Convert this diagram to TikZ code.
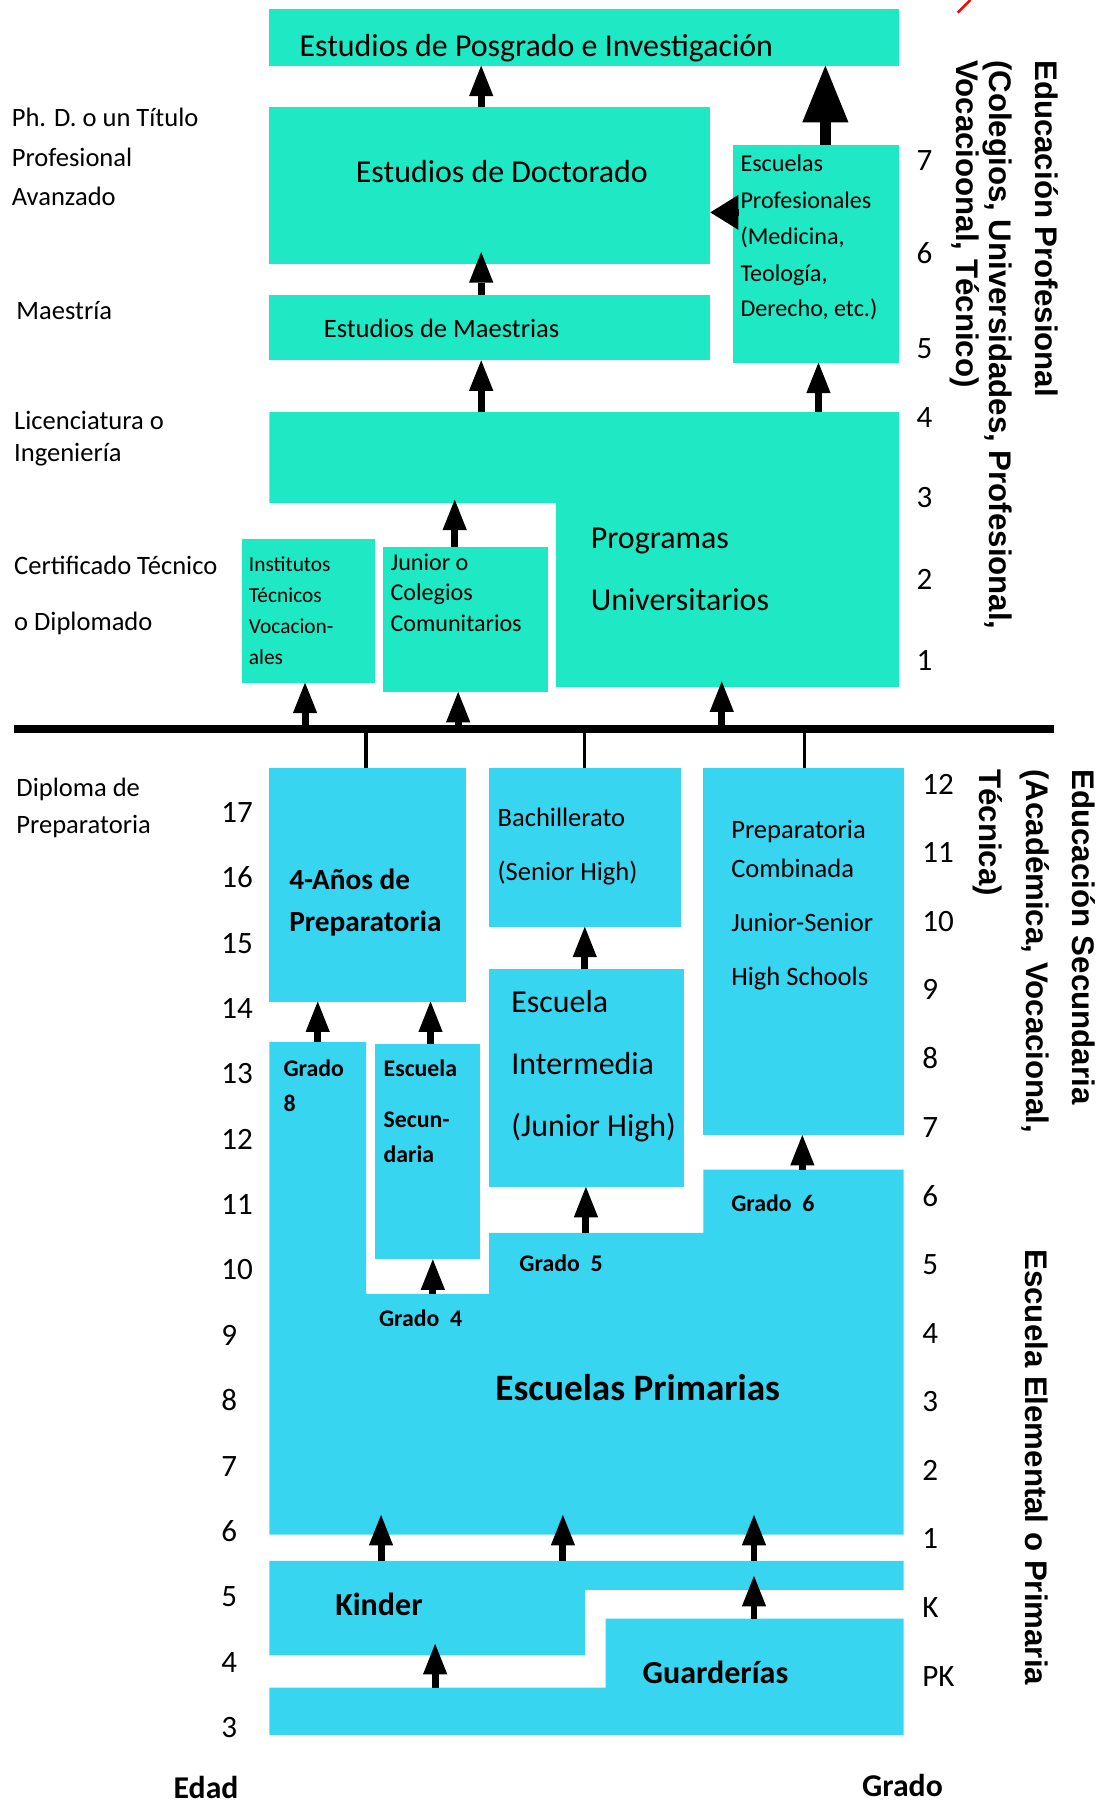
\documentclass[tikz,border=0pt]{standalone}
\usepackage{fontspec}
\setmainfont{Carlito}
\newfontfamily\vertfont{Liberation Sans}
\usetikzlibrary{arrows.meta,fit}
\definecolor{profteal}{RGB}{30,233,196}
\definecolor{seccyan}{RGB}{56,213,240}
\newcommand{\setfs}[1]{\fontsize{#1pt}{#1pt}\selectfont}
\tikzset{
  profbox/.style={fill=profteal, inner sep=0pt, outer sep=0pt},
  secbox/.style={fill=seccyan, inner sep=0pt, outer sep=0pt},
  lbl/.style={inner sep=0pt, anchor=mid west, yshift=-3.5pt},
  txtbig/.style={font=\setfs{19.7}},
  txtmid/.style={font=\setfs{16.4}},
  txtsm/.style={font=\setfs{14.9}},
  txtxs/.style={font=\setfs{13.2}},
  boldsm/.style={font=\bfseries\setfs{14.7}},
  boldmd/.style={font=\bfseries\setfs{18.1}},
  boldlg/.style={font=\bfseries\setfs{19.8}},
  numtxt/.style={font=\setfs{19.2}},
  vlabel/.style={inner sep=0pt, anchor=mid west, rotate=-90, font=\vertfont\bfseries\setfs{19.3}},
  uparrow/.style={line width=4.3pt, -{Triangle[width=15pt,length=18.8pt,line width=0pt]}},
  bigarrow/.style={line width=7.2pt, -{Triangle[width=28.5pt,length=35pt,line width=0pt]}},
}
\begin{document}
\begin{tikzpicture}[x=0.025cm, y=-0.025cm]
    \useasboundingbox (0,0) rectangle (961,1568);

    % educacion profesional
    \node[profbox, fit={(234,8) (781,57)}] (pos) {};
    \node[profbox, fit={(234,93) (617,229)}] (doc) {};
    \node[profbox, fit={(637,126) (781,315)}] (esc) {};
    \node[profbox, fit={(234,256) (617,313)}] (mae) {};
    \fill[profteal] (234,358) -- (781,358) -- (781,597) -- (483,597) -- (483,437) -- (234,437) -- cycle;
    \node[profbox, fit={(210,468) (326,593)}] (ins) {};
    \node[profbox, fit={(333,475) (476,601)}] (jun) {};

    \node[lbl, txtbig] (tpos) at (260,41) {Estudios de Posgrado e Investigación};
    \node[txtbig, inner sep=0pt] (tdoc) at (436,149) {Estudios de Doctorado};
    \foreach \yy/\tt in {141/Escuelas, 173/Profesionales, 204/{(Medicina,}, 236/{Teología,}, 267/{Derecho, etc.)}}
        \node[lbl, txtsm] (tesc\yy) at (643,\yy) {\tt};
    \node[lbl, txtmid] (tmae) at (281,285) {Estudios de Maestrias};
    \node[lbl, txtbig] (tuni1) at (513,468) {Programas};
    \node[lbl, txtbig] (tuni2) at (513,522) {Universitarios};
    \foreach \yy/\tt in {488/Institutos, 515/Técnicos, 542/Vocacion-, 569/ales}
        \node[lbl, txtxs] (tins\yy) at (216,\yy) {\tt};
    \foreach \yy/\tt in {487/Junior o, 513/Colegios, 540/Comunitarios}
        \node[lbl, txtsm] (tjun\yy) at (339,\yy) {\tt};

    \coordinate (docup) at (418,93);
    \draw[uparrow] (docup) -- (docup |- pos.south);
    \coordinate (escup) at (717,126);
    \draw[bigarrow] (escup) -- (escup |- pos.south);
    \coordinate (escleft) at (641,184.5);
    \draw[line width=4pt, -{Triangle[width=21.6pt,length=17.4pt,line width=0pt]}] (escleft) -- (escleft -| doc.east);
    \coordinate (maeup) at (418,256);
    \coordinate (maetip) at (418,219);
    \draw[uparrow] (maeup) -- (maetip);
    \coordinate (uniup1) at (418,358);
    \draw[uparrow] (uniup1) -- (uniup1 |- mae.south);
    \coordinate (uniup2) at (711,358);
    \draw[uparrow] (uniup2) -- (uniup2 |- esc.south);
    \coordinate (junup) at (395,475);
    \coordinate (unistep) at (395,434);
    \draw[uparrow] (junup) -- (unistep);

    % linea divisoria
    \coordinate (barL) at (12,633);
    \coordinate (barR) at (916,633);
    \draw[line width=5pt] (barL) -- (barR);
    \coordinate (bar1) at (265,633);
    \draw[uparrow] (bar1) -- (bar1 |- ins.south);
    \coordinate (bar2) at (398,633);
    \draw[uparrow] (bar2) -- (bar2 |- jun.south);
    \coordinate (bar3) at (627,633);
    \coordinate (unibot) at (627,592);
    \draw[uparrow] (bar3) -- (unibot);

    % educacion secundaria
    \node[secbox, fit={(234,667) (405,870)}] (ano) {};
    \node[secbox, fit={(425,667) (592,805)}] (bac) {};
    \node[secbox, fit={(611,667) (785,986)}] (pco) {};
    \node[secbox, fit={(425,842) (594,1031)}] (int) {};
    \node[secbox, fit={(326,907) (417,1094)}] (sec) {};
    \fill[seccyan] (234,905) -- (318,905) -- (318,1124) -- (425,1124) -- (425,1071) -- (611,1071) -- (611,1016)
        -- (785,1016) -- (785,1333) -- (234,1333) -- cycle;
    \fill[seccyan] (234,1356) -- (785,1356) -- (785,1381) -- (508,1381) -- (508,1438) -- (234,1438) -- cycle;
    \fill[seccyan] (526,1406) -- (785,1406) -- (785,1507) -- (234,1507) -- (234,1466) -- (526,1466) -- cycle;

    \coordinate (drop1) at (318,633);
    \draw[line width=2pt] (drop1) -- (drop1 |- ano.north);
    \coordinate (drop2) at (508,633);
    \draw[line width=2pt] (drop2) -- (drop2 |- bac.north);
    \coordinate (drop3) at (699,633);
    \draw[line width=2pt] (drop3) -- (drop3 |- pco.north);

    \node[lbl, boldmd] (tano1) at (251,764) {4-Años de};
    \node[lbl, boldmd] (tano2) at (251,801) {Preparatoria};
    \node[lbl, txtmid] (tbac1) at (432,710) {Bachillerato};
    \node[lbl, txtmid] (tbac2) at (432,757) {(Senior High)};
    \foreach \yy/\tt in {720/Preparatoria, 754/Combinada, 801/Junior-Senior, 848/High Schools}
        \node[lbl, txtmid] (tpco\yy) at (635,\yy) {\tt};
    \foreach \yy/\tt in {871/Escuela, 925/Intermedia, 979/(Junior High)}
        \node[lbl, txtbig] (tint\yy) at (444,\yy) {\tt};
    \node[lbl, boldsm] (tg8a) at (246,927) {Grado};
    \node[lbl, boldsm] (tg8b) at (246,957) {8};
    \foreach \yy/\tt in {927/Escuela, 971/Secun-, 1002/daria}
        \node[lbl, boldsm] (tsec\yy) at (333,\yy) {\tt};
    \node[lbl, boldsm] (tg4) at (329,1144) {Grado\ \ 4};
    \node[lbl, boldsm] (tg5) at (451,1096) {Grado\ \ 5};
    \node[lbl, boldsm] (tg6) at (635,1044) {Grado\ \ 6};
    \node[inner sep=0pt, font=\bfseries\setfs{23}] (tprim) at (554,1205) {Escuelas Primarias};
    \node[lbl, boldlg] (tkin) at (291,1395) {Kinder};
    \node[lbl, boldlg] (tgua) at (558,1454) {Guarderías};

    \coordinate (g8up) at (276,905);
    \draw[uparrow] (g8up) -- (g8up |- ano.south);
    \coordinate (secup) at (374,907);
    \draw[uparrow] (secup) -- (secup |- ano.south);
    \coordinate (intup) at (508,842);
    \draw[uparrow] (intup) -- (intup |- bac.south);
    \coordinate (g4up) at (376,1124);
    \draw[uparrow] (g4up) -- (g4up |- sec.south);
    \coordinate (g5up) at (509,1071);
    \draw[uparrow] (g5up) -- (g5up |- int.south);
    \coordinate (g6up) at (697,1016);
    \draw[uparrow] (g6up) -- (g6up |- pco.south);
    \foreach \xx in {331,489,655} {
        \coordinate (kup\xx) at (\xx,1356);
        \coordinate (ktip\xx) at (\xx,1316);
        \draw[uparrow] (kup\xx) -- (ktip\xx);
    }
    \coordinate (guaup) at (655,1406);
    \coordinate (guatip) at (655,1369);
    \draw[uparrow] (guaup) -- (guatip);
    \coordinate (pkup) at (378,1466);
    \coordinate (pktip) at (378,1428);
    \draw[uparrow] (pkup) -- (pktip);

    % etiquetas izquierda
    \node[lbl, txtmid] (lphd1) at (10,102) {Ph. D. o un Título};
    \node[lbl, txtmid] (lphd2) at (10,136) {Profesional};
    \node[lbl, txtmid] (lphd3) at (10,170) {Avanzado};
    \node[lbl, txtmid] (lmae) at (14,269) {Maestría};
    \node[lbl, txtmid] (llic1) at (12,365) {Licenciatura o};
    \node[lbl, txtmid] (llic2) at (12,393) {Ingeniería};
    \node[lbl, txtmid] (lcer1) at (12,491) {Certificado Técnico};
    \node[lbl, txtmid] (lcer2) at (12,539) {o Diplomado};
    \node[lbl, txtmid] (ldip1) at (14,684) {Diploma de};
    \node[lbl, txtmid] (ldip2) at (14,716) {Preparatoria};

    % edades y grados
    \foreach \a in {3,...,17}
        \node[lbl, numtxt] (age\a) at (192,{706+(17-\a)*56.8}) {\a};
    \foreach \g/\yy in {7/140, 6/221, 5/303, 4/363, 3/433, 2/504, 1/574}
        \node[lbl, numtxt] (gu\g) at (796,\yy) {\g};
    \foreach \g/\yy in {12/682, 11/741, 10/801, 9/860, 8/920, 7/980, 6/1040, 5/1099, 4/1159, 3/1218, 2/1278, 1/1337, K/1397, PK/1457}
        \node[lbl, numtxt] (gl\g) at (801,\yy) {\g};
    \node[inner sep=0pt, font=\bfseries\setfs{19.6}] (edad) at (179,1553) {Edad};
    \node[inner sep=0pt, font=\bfseries\setfs{19.6}] (grado) at (784,1551) {Grado};

    % rotulos verticales
    \node[vlabel] (vprof1) at (903,52) {Educación Profesional};
    \node[vlabel] (vprof2) at (863,52) {(Colegios, Universidades, Profesional,};
    \node[vlabel] (vprof3) at (834,52) {Vocacioonal, Técnico)};
    \node[vlabel] (vsec1) at (935,668) {Educación Secundaria};
    \node[vlabel] (vsec2) at (895,668) {(Académica, Vocacional,};
    \node[vlabel] (vsec3) at (854,668) {Técnica)};
    \node[vlabel] (vele) at (894,1085) {Escuela Elemental o Primaria};

    \draw[red, line width=1.5pt] (843,0) -- (832,11);
\end{tikzpicture}
\end{document}
